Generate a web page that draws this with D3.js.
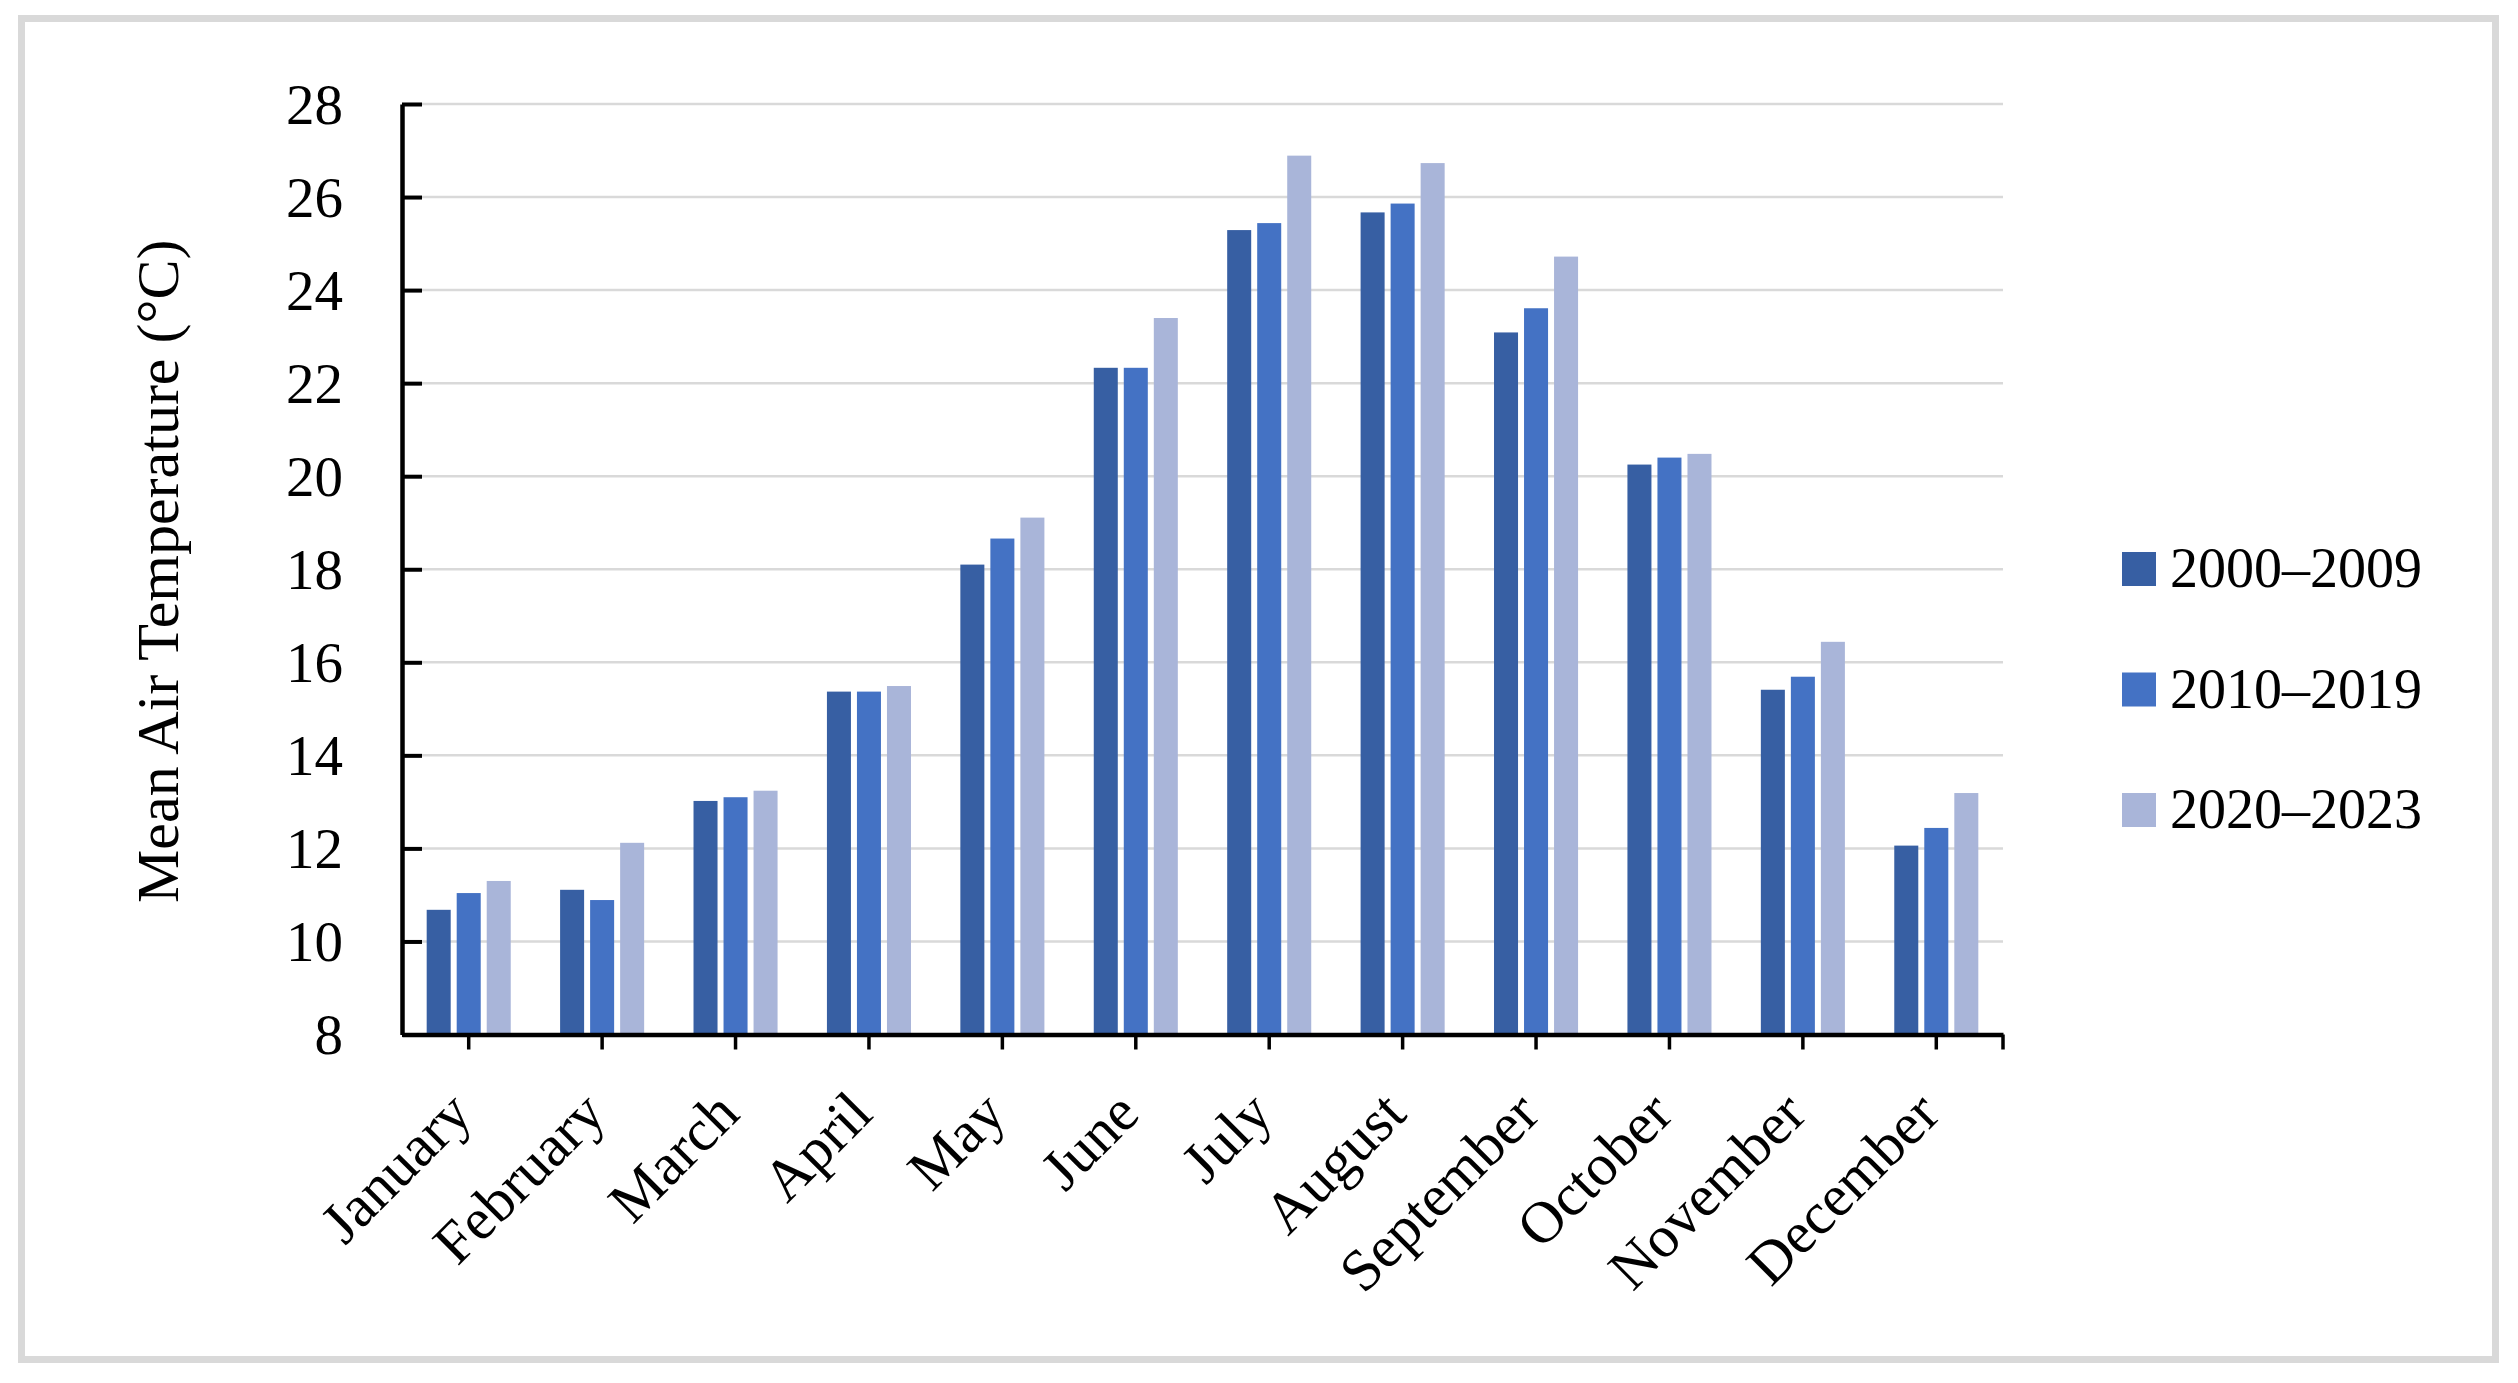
<!DOCTYPE html>
<html>
<head>
<meta charset="utf-8">
<script src="https://cdn.jsdelivr.net/npm/d3@7"></script>
<style>
  body { margin: 0; background: #fff; }
  svg text { font-family: "Liberation Serif", "Times New Roman", serif; fill: #000; }
</style>
</head>
<body>
<svg id="chart" width="2518" height="1383"></svg>
<script>
(function () {

  'use strict';

  // ----------- DATA --------------
  var MONTHS = ['January', 'February', 'March', 'April', 'May', 'June',
                'July', 'August', 'September', 'October', 'November', 'December'];
  var SERIES = ['2000–2009', '2010–2019', '2020–2023'];
  var temp2000s = [10.68, 11.11, 13.02, 15.37, 18.10, 22.33, 25.29, 25.67, 23.09, 20.25, 15.41, 12.06];
  var temp2010s = [11.04, 10.89, 13.10, 15.37, 18.66, 22.33, 25.44, 25.86, 23.61, 20.40, 15.69, 12.44];
  var temp2020s = [11.30, 12.12, 13.24, 15.49, 19.11, 23.40, 26.89, 26.73, 24.72, 20.48, 16.44, 13.19];
  var Y_TICKS = [8, 10, 12, 14, 16, 18, 20, 22, 24, 26, 28];
  var COLORS = ['#375fa3', '#4472c4', '#a9b5d9'];

  var values = [temp2000s, temp2010s, temp2020s];

  // ----------- LAYOUT --------------
  var left = 402, right = 2003, top = 104, bottom = 1034.5;
  var svg = d3.select('#chart');

  // outer frame
  svg.append('rect')
    .attr('x', 21.5).attr('y', 18.5)
    .attr('width', 2474).attr('height', 1341)
    .attr('fill', '#fff')
    .attr('stroke', '#d9d9d9')
    .attr('stroke-width', 7);

  var x0 = d3.scaleBand()
    .domain(MONTHS)
    .range([left, right])
    .paddingInner(0.37)
    .paddingOuter(0.185);

  var x1 = d3.scaleBand()
    .domain(SERIES)
    .range([0, x0.bandwidth()])
    .paddingInner(0.2)
    .paddingOuter(0);

  var y = d3.scaleLinear()
    .domain([8, 28])
    .range([bottom, top]);

  // gridlines
  svg.append('g')
    .selectAll('line')
    .data(Y_TICKS.slice(1))
    .enter()
    .append('line')
    .attr('x1', left).attr('x2', right)
    .attr('y1', function (d) { return y(d); })
    .attr('y2', function (d) { return y(d); })
    .attr('stroke', '#d9d9d9')
    .attr('stroke-width', 2.5);

  // bars
  var groups = svg.append('g')
    .selectAll('g')
    .data(MONTHS)
    .enter()
    .append('g')
    .attr('transform', function (d) { return 'translate(' + x0(d) + ',0)'; });

  groups.selectAll('rect')
    .data(function (m, i) {
      return SERIES.map(function (s, k) { return { s: s, k: k, v: values[k][i] }; });
    })
    .enter()
    .append('rect')
    .attr('x', function (d) { return x1(d.s); })
    .attr('width', x1.bandwidth())
    .attr('y', function (d) { return y(d.v); })
    .attr('height', function (d) { return y(8) - y(d.v); })
    .attr('fill', function (d) { return COLORS[d.k]; });

  // y axis
  var yAxis = svg.append('g')
    .attr('transform', 'translate(' + left + ',0)')
    .call(d3.axisLeft(y).tickValues(Y_TICKS).tickSizeInner(-20).tickSizeOuter(0).tickPadding(59));
  yAxis.select('.domain').attr('stroke', '#000').attr('stroke-width', 4.5);
  yAxis.selectAll('.tick line').attr('stroke', '#000').attr('stroke-width', 4);
  yAxis.selectAll('.tick text')
    .attr('font-family', '"Liberation Serif", serif')
    .attr('font-size', 57)
    .attr('dy', '0.34em');

  // x axis
  var xAxis = svg.append('g')
    .attr('transform', 'translate(0,' + bottom + ')')
    .call(d3.axisBottom(x0).tickSizeInner(15).tickSizeOuter(0).tickPadding(0));
  xAxis.select('.domain').attr('stroke', '#000').attr('stroke-width', 4.5);
  xAxis.selectAll('.tick line').attr('stroke', '#000').attr('stroke-width', 3.5);
  xAxis.selectAll('.tick text')
    .attr('font-family', '"Liberation Serif", serif')
    .attr('font-size', 59)
    .attr('text-anchor', 'end')
    .attr('dy', 0)
    .attr('y', 0)
    .attr('transform', 'translate(6,82) rotate(-45)');
  xAxis.append('line')
    .attr('x1', right).attr('x2', right)
    .attr('y1', 0).attr('y2', 15)
    .attr('stroke', '#000').attr('stroke-width', 3.5);

  // y axis title
  svg.append('text')
    .attr('transform', 'translate(178,' + ((top + bottom) / 2 + 2) + ') rotate(-90)')
    .attr('text-anchor', 'middle')
    .attr('font-size', 60)
    .text('Mean Air Temperature (°C)');

  // legend
  var legend = svg.append('g')
    .selectAll('g')
    .data(SERIES)
    .enter()
    .append('g')
    .attr('transform', function (d, i) { return 'translate(2122,' + (569 + i * 120.5) + ')'; });

  legend.append('rect')
    .attr('x', 0).attr('y', -17)
    .attr('width', 34).attr('height', 34)
    .attr('fill', function (d, i) { return COLORS[i]; });

  legend.append('text')
    .attr('x', 48).attr('y', 18)
    .attr('font-size', 56)
    .text(function (d) { return d; });

})();
</script>
</body>
</html>
